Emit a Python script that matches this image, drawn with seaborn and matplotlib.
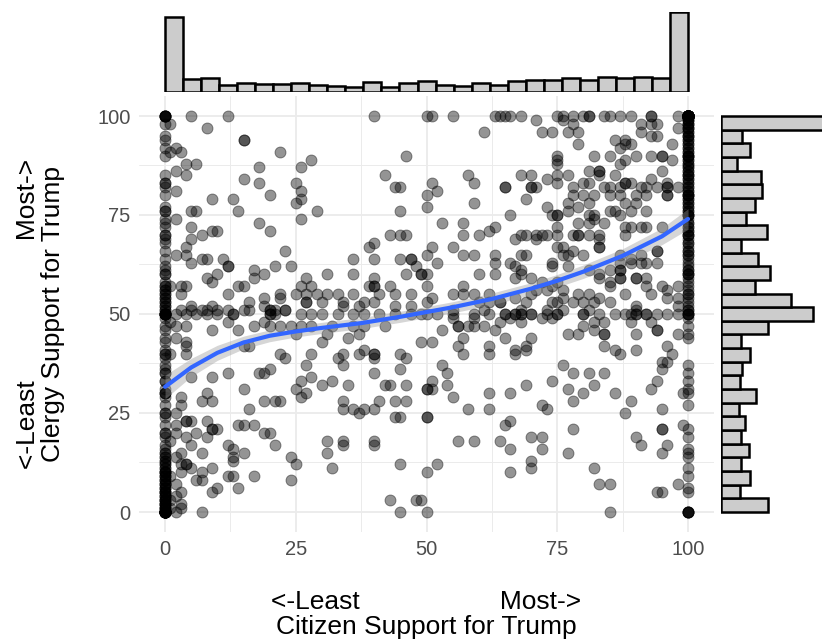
import numpy as np
import pandas as pd
import matplotlib
matplotlib.use("Agg")
import matplotlib.pyplot as plt
import seaborn as sns

# scatter: rows of (clergy support, [citizen support ...])
upper_left = [
    (100, [5, 12, 40]), (98, [1]), (97, [8]), (94, [15, 15]), (92, [2]),
    (91, [1, 3, 22]), (90, [46]), (89, [28]), (88, [4, 6]), (87, [18, 26]),
    (86, [2]), (85, [4, 42]), (84, [15]), (83, [18, 25]), (82, [44, 45]),
    (81, [2, 26]), (80, [20]), (79, [9, 13, 26]), (78, [25]),
    (76, [5, 6, 14, 29, 45]), (74, [2, 26]), (73, [18]), (72, [5]),
    (71, [9, 10, 20]), (70, [7, 43, 45, 46]), (69, [5]), (68, [40]),
    (67, [4, 39]), (66, [23]), (65, [2, 4]),
    (64, [7, 8, 11, 36, 40, 45, 47, 47]), (63, [5]),
    (62, [12, 12, 21, 24, 48]), (61, [17]),
    (60, [10, 19, 31, 36, 46, 49, 49]), (59, [8, 17, 27, 40]), (58, [9]),
]
mid_left = [
    (57, [1, 3, 4, 14, 15, 26, 28, 39, 40, 40, 43]),
    (55, [3, 12, 22, 25, 27, 29, 31, 33, 36, 41, 44, 47]),
    (54, [19, 22]), (53, [16, 27, 27, 30, 34, 38, 40]),
    (52, [5, 9, 19, 34, 37, 44, 47]),
    (51, [3, 5, 7, 8, 10, 12, 15, 16, 20, 20, 21, 23, 23]),
    (50, [2, 4, 6, 8, 10, 13, 13, 20, 20, 21, 26, 28, 30, 33, 36, 38, 41, 44, 47, 49]),
    (48, [1, 12, 19]), (47, [2, 4, 17, 20, 22, 24, 26, 28, 32, 36, 38, 42]),
    (46, [9, 14]), (45, [25, 31, 37]), (44, [2, 35]), (43, [4, 30, 49]),
    (42, [4, 15, 16]), (41, [38]), (40, [1, 4, 22, 28, 34, 37, 40, 40, 45]),
    (39, [23, 33, 40, 46]),
]
lower_left = [
    (37, [27, 34]), (36, [20, 45]), (35, [12, 18, 19, 40]), (34, [5, 9, 28]),
    (33, [26, 32]), (32, [30, 35, 42, 43, 46]), (31, [15, 25]), (30, [8, 27]),
    (29, [3, 26]), (28, [7, 9, 19, 21, 22, 34, 41, 44, 46]), (27, [3]),
    (26, [16, 34, 36, 38, 40]), (25, [2, 37]), (24, [44, 45]), (23, [4, 4, 5, 8]),
    (22, [2, 14, 15, 17]), (21, [9, 9, 10]), (20, [2, 6, 19, 20]), (19, [4, 8]),
    (18, [1, 31, 34, 40]), (17, [5, 12, 21, 34, 40]), (16, [13]), (15, [3, 7, 15, 31]),
    (14, [2, 13, 24]), (13, [13]), (12, [3, 4, 4, 25, 45]), (11, [5, 9, 32]),
    (10, [3, 7]), (9, [1, 12, 13, 17]), (8, [6, 7, 24]), (7, [2]), (6, [10, 14]),
    (5, [3, 9]), (4, [2]), (3, [1, 43, 48]), (2, [3]), (1, [1, 3]), (0, [2, 7, 45]),
]
upper_right = [
    (100, [50, 51, 55, 63, 64, 65, 66, 68, 75, 76, 78, 80, 81, 81, 84, 85, 87, 89, 93, 93, 98]),
    (99, [71, 76]), (98, [78, 91, 93, 94]), (97, [98]), (96, [61, 72, 74, 77, 79, 91]),
    (95, [93, 94]), (94, [86, 88]), (93, [79, 88, 89, 97]), (92, [87]),
    (90, [75, 82, 85, 90, 93, 95, 95]), (89, [75, 88, 97]), (88, [75, 87]),
    (86, [81, 83, 83, 95]), (85, [58, 68, 70, 75, 77, 83, 86]), (84, [73, 93]),
    (83, [51, 59, 75, 80, 81, 88, 88, 89, 96]),
    (82, [65, 65, 70, 70, 71, 78, 84, 85, 87, 91, 92, 94, 96, 96, 98]),
    (81, [52]), (80, [50, 78, 80, 82, 85, 87, 90, 92, 96, 96]), (79, [69]),
    (78, [59, 77, 81, 88, 90]), (77, [50, 73, 79]), (76, [77, 85, 86, 89, 92]),
    (75, [66, 74, 75, 75, 81, 82, 87]), (74, [82]), (73, [53, 57, 79, 81, 84]),
    (72, [63, 75, 88, 89, 91, 92, 95]), (71, [62]),
    (70, [57, 60, 68, 69, 71, 72, 73, 75, 78, 79, 79, 81, 83, 88]),
    (69, [67, 71, 83]), (67, [51, 55, 75, 76, 83, 83]), (66, [78, 94, 94]),
    (65, [50, 57, 59, 63, 68, 69, 76, 77, 80, 87, 91]), (64, [89]),
    (63, [52, 63, 66, 74, 87, 89, 91, 92, 94]), (62, [67, 74, 77]),
    (61, [68, 81, 85, 87, 87]), (60, [50, 60, 63, 68, 83]),
    (59, [67, 70, 83, 87, 87, 90, 90, 92]), (58, [72, 75, 85]),
]
mid_right = [
    (57, [50, 57, 74, 85, 92, 95, 98]), (56, [71, 73, 76, 96]),
    (55, [55, 57, 59, 62, 70, 79, 81, 88, 93]), (54, [51, 67, 76, 83, 96, 98]),
    (53, [50, 60, 62, 64, 64, 69, 74, 75, 78, 80, 82, 85]), (52, [90, 98]),
    (51, [55, 61, 68, 73, 76, 81, 90]),
    (50, [50, 52, 55, 59, 62, 65, 65, 67, 67, 68, 68, 70, 70, 73, 75, 75, 80, 80,
          83, 86, 88, 89, 90, 90, 92, 92, 94, 96, 98]),
    (49, [55, 59, 66, 72, 74]), (48, [64, 68, 82, 84, 89, 93]),
    (47, [56, 56, 58, 59, 61, 80]), (46, [53, 63, 82, 94, 94]),
    (45, [77, 79, 84, 84, 90, 98]), (44, [57, 65, 70]), (43, [51]),
    (42, [56, 62, 69, 84, 96]), (41, [67, 69, 86, 90]), (40, [57, 62, 67, 87, 97]),
]
lower_right = [
    (38, [95, 96]), (37, [53, 76]), (36, [95]), (35, [54, 78, 81, 84]),
    (33, [51, 74, 94]), (32, [54, 69, 82]), (31, [50, 50, 51, 77, 93]),
    (30, [62, 66, 80, 86, 99]), (29, [55]), (28, [78, 89]), (27, [72]),
    (26, [58, 62, 73, 95]), (25, [88]), (24, [50, 50]), (23, [66]), (22, [65, 99]),
    (21, [78, 95, 95]), (19, [70, 72, 90]), (18, [56, 59, 64]), (17, [91, 96]),
    (16, [66, 72]), (15, [77, 95]), (13, [70]), (12, [52]), (11, [70, 82]),
    (10, [50, 66]), (7, [83, 85, 98]), (5, [94, 95]), (3, [49]), (0, [50, 85]),
]

# stacked answers at citizen = 0 and citizen = 100: (clergy value, how many)
col_0 = [
    (100, 6), (98, 1), (95, 1), (94, 1), (92, 1), (90, 1), (85, 1), (83, 2), (82, 1),
    (80, 1), (77, 1), (76, 2), (74, 1), (73, 1), (72, 1), (70, 2), (69, 1), (68, 1),
    (66, 1), (64, 1), (62, 1), (61, 1), (60, 2), (58, 1), (57, 2), (56, 2), (55, 2),
    (54, 2), (53, 2), (52, 2), (51, 2), (50, 8), (49, 1), (47, 1), (46, 1), (44, 1),
    (43, 1), (41, 1), (40, 2), (39, 1), (37, 1), (36, 1), (35, 2), (33, 2), (31, 1),
    (30, 3), (29, 1), (27, 1), (25, 2), (24, 1), (22, 1), (20, 2), (19, 1), (17, 1),
    (16, 1), (15, 2), (14, 2), (13, 2), (12, 2), (11, 2), (10, 4), (9, 3), (8, 3),
    (7, 3), (6, 3), (5, 4), (4, 3), (3, 4), (2, 4), (1, 4), (0, 18),
]
col_100 = [
    (100, 55), (99, 3), (98, 3), (97, 3), (96, 2), (95, 3), (94, 2), (93, 2), (92, 2),
    (91, 2), (90, 4), (89, 2), (88, 2), (87, 2), (86, 2), (85, 3), (84, 2), (83, 2),
    (82, 2), (81, 2), (80, 4), (79, 2), (78, 2), (77, 2), (76, 2), (75, 4), (74, 1),
    (73, 2), (72, 2), (71, 2), (70, 3), (69, 1), (68, 2), (67, 1), (66, 2), (65, 2),
    (64, 1), (63, 1), (62, 1), (61, 2), (60, 3), (59, 1), (58, 1), (57, 1), (56, 1),
    (55, 2), (54, 1), (53, 1), (52, 1), (51, 2), (50, 4), (49, 1), (47, 1), (45, 1),
    (44, 1), (37, 1), (35, 1), (33, 1), (31, 1), (30, 1), (27, 1), (21, 1), (19, 1),
    (16, 1), (15, 1), (14, 1), (11, 1), (9, 1), (6, 1), (5, 1), (0, 5),
]

# loess fit and its band
smooth_x = [0, 5, 10, 15, 20, 25, 30, 37.5, 45, 50, 55, 62.5, 70, 75, 80, 87.5, 95, 100]
smooth_y = [31.6, 36.5, 40.2, 42.8, 44.5, 45.6, 46.5, 47.7, 49.3, 50.5, 51.7, 53.8,
            56.4, 58.4, 60.7, 64.7, 69.6, 74.0]
smooth_half = [3.0, 2.3, 1.9, 1.6, 1.5, 1.4, 1.4, 1.4, 1.4, 1.4, 1.4, 1.5, 1.5, 1.6,
               1.7, 1.8, 2.1, 2.6]

ticks = [0, 25, 50, 75, 100]

# build the long table
cit, cle = [], []
for rows in [upper_left, mid_left, lower_left, upper_right, mid_right, lower_right]:
    for y, xs in rows:
        cit += xs
        cle += [y] * len(xs)
for xval, col in [(0, col_0), (100, col_100)]:
    for y, n in col:
        cit += [xval] * n
        cle += [y] * n
df = pd.DataFrame({"citizen": cit, "clergy": cle})

sns.set_theme(style="white")
plt.rcParams["font.family"] = ["Liberation Sans", "DejaVu Sans"]

W, H = 822, 642
fig = plt.figure(figsize=(W / 100, H / 100), dpi=100)
ax = fig.add_axes([138.9 / W, 1 - 531.8 / H, 575.3 / W, 435.6 / H])
ax_top = fig.add_axes([138.9 / W, 1 - 92 / H, 575.3 / W, 80 / H])
ax_right = fig.add_axes([721 / W, 1 - 531.8 / H, 101 / W, 435.6 / H])

# main scatter
sns.scatterplot(data=df, x="citizen", y="clergy", ax=ax, s=62, color="black",
                alpha=0.42, edgecolor="black", linewidth=0.7, zorder=2)

lo = np.array(smooth_y) - np.array(smooth_half)
hi = np.array(smooth_y) + np.array(smooth_half)
ax.fill_between(smooth_x, lo, hi, color="#999999", alpha=0.4, lw=0, zorder=3)
sns.lineplot(x=smooth_x, y=smooth_y, ax=ax, color="#3366FF", lw=3, zorder=4)

ax.set_xlim(-5, 105)
ax.set_ylim(-5, 105)
ax.set_xticks(ticks)
ax.set_yticks(ticks)
ax.set_xticks([12.5, 37.5, 62.5, 87.5], minor=True)
ax.set_yticks([12.5, 37.5, 62.5, 87.5], minor=True)
ax.grid(which="major", color="#ebebeb", lw=1.3, zorder=0)
ax.grid(which="minor", color="#ebebeb", lw=0.7, zorder=0)
ax.set_axisbelow(True)
for s in ax.spines.values():
    s.set_visible(False)
ax.tick_params(which="both", length=0, labelsize=14.5, labelcolor="#4d4d4d", pad=6)

gap = " " * 19
ax.set_xlabel("<-Least" + gap + "Most->\nCitizen Support for Trump",
              fontsize=19, color="black", linespacing=1.05)
ax.set_ylabel("<-Least" + gap + "Most->\nClergy Support for Trump",
              fontsize=19, color="black", linespacing=1.05)
ax.xaxis.set_label_coords(0.5, -0.134)
ax.yaxis.set_label_coords(-0.128, 0.5)

# marginal histograms
edges = np.linspace(0, 100, 30)
sns.histplot(x=df["citizen"], bins=edges, ax=ax_top, color="#cccccc",
             edgecolor="black", linewidth=1.8, alpha=1)
ax_top.set_xlim(-5, 105)
top_max = np.histogram(df["citizen"], edges)[0].max()
ax_top.set_ylim(0, top_max)
ax_top.axis("off")

sns.histplot(y=df["clergy"], bins=edges, ax=ax_right, color="#cccccc",
             edgecolor="black", linewidth=1.8, alpha=1)
ax_right.set_ylim(-5, 105)
ax_right.set_xlim(0, 101)
ax_right.axis("off")

fig.savefig("out.png", dpi=100)
